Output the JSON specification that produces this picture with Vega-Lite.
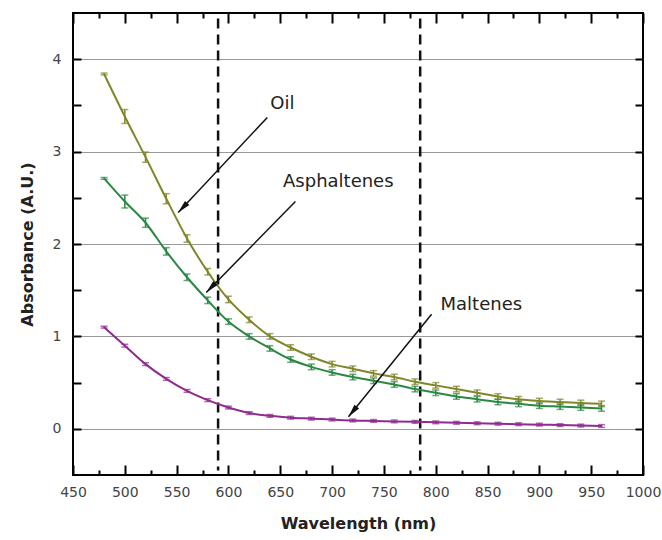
{
  "$schema": "https://vega.github.io/schema/vega-lite/v6.json",
  "width": 570,
  "height": 462,
  "autosize": {"type": "none"},
  "padding": {"left": 73, "top": 13, "right": 19, "bottom": 65},
  "background": "white",
  "config": {
    "view": {"stroke": "black", "strokeWidth": 2},
    "font": "DejaVu Sans",
    "axis": {
      "domain": false,
      "labelFont": "DejaVu Sans",
      "labelFontSize": 14,
      "labelColor": "#444",
      "labelFlush": false,
      "labelOverlap": false,
      "titleFont": "DejaVu Sans",
      "titleFontSize": 16,
      "titleFontWeight": "bold",
      "titleColor": "#222"
    }
  },
  "datasets": {
    "spec": [
      {"s": "Oil", "wl": 480, "a": 3.84, "e": 0.01},
      {"s": "Oil", "wl": 500, "a": 3.38, "e": 0.075},
      {"s": "Oil", "wl": 520, "a": 2.94, "e": 0.055},
      {"s": "Oil", "wl": 540, "a": 2.49, "e": 0.055},
      {"s": "Oil", "wl": 560, "a": 2.06, "e": 0.04},
      {"s": "Oil", "wl": 580, "a": 1.70, "e": 0.035},
      {"s": "Oil", "wl": 600, "a": 1.40, "e": 0.035},
      {"s": "Oil", "wl": 620, "a": 1.18, "e": 0.03},
      {"s": "Oil", "wl": 640, "a": 1.00, "e": 0.03},
      {"s": "Oil", "wl": 660, "a": 0.88, "e": 0.03},
      {"s": "Oil", "wl": 680, "a": 0.78, "e": 0.03},
      {"s": "Oil", "wl": 700, "a": 0.70, "e": 0.03},
      {"s": "Oil", "wl": 720, "a": 0.65, "e": 0.03},
      {"s": "Oil", "wl": 740, "a": 0.60, "e": 0.03},
      {"s": "Oil", "wl": 760, "a": 0.56, "e": 0.03},
      {"s": "Oil", "wl": 780, "a": 0.51, "e": 0.03},
      {"s": "Oil", "wl": 800, "a": 0.47, "e": 0.03},
      {"s": "Oil", "wl": 820, "a": 0.43, "e": 0.03},
      {"s": "Oil", "wl": 840, "a": 0.39, "e": 0.03},
      {"s": "Oil", "wl": 860, "a": 0.35, "e": 0.03},
      {"s": "Oil", "wl": 880, "a": 0.32, "e": 0.03},
      {"s": "Oil", "wl": 900, "a": 0.30, "e": 0.03},
      {"s": "Oil", "wl": 920, "a": 0.29, "e": 0.03},
      {"s": "Oil", "wl": 940, "a": 0.28, "e": 0.03},
      {"s": "Oil", "wl": 960, "a": 0.27, "e": 0.03},
      {"s": "Asphaltenes", "wl": 480, "a": 2.71, "e": 0.01},
      {"s": "Asphaltenes", "wl": 500, "a": 2.46, "e": 0.07},
      {"s": "Asphaltenes", "wl": 520, "a": 2.23, "e": 0.05},
      {"s": "Asphaltenes", "wl": 540, "a": 1.92, "e": 0.04},
      {"s": "Asphaltenes", "wl": 560, "a": 1.64, "e": 0.035},
      {"s": "Asphaltenes", "wl": 580, "a": 1.39, "e": 0.035},
      {"s": "Asphaltenes", "wl": 600, "a": 1.16, "e": 0.03},
      {"s": "Asphaltenes", "wl": 620, "a": 1.00, "e": 0.03},
      {"s": "Asphaltenes", "wl": 640, "a": 0.87, "e": 0.03},
      {"s": "Asphaltenes", "wl": 660, "a": 0.75, "e": 0.03},
      {"s": "Asphaltenes", "wl": 680, "a": 0.67, "e": 0.03},
      {"s": "Asphaltenes", "wl": 700, "a": 0.61, "e": 0.03},
      {"s": "Asphaltenes", "wl": 720, "a": 0.56, "e": 0.03},
      {"s": "Asphaltenes", "wl": 740, "a": 0.52, "e": 0.03},
      {"s": "Asphaltenes", "wl": 760, "a": 0.48, "e": 0.03},
      {"s": "Asphaltenes", "wl": 780, "a": 0.43, "e": 0.03},
      {"s": "Asphaltenes", "wl": 800, "a": 0.39, "e": 0.03},
      {"s": "Asphaltenes", "wl": 820, "a": 0.35, "e": 0.03},
      {"s": "Asphaltenes", "wl": 840, "a": 0.32, "e": 0.03},
      {"s": "Asphaltenes", "wl": 860, "a": 0.29, "e": 0.03},
      {"s": "Asphaltenes", "wl": 880, "a": 0.27, "e": 0.03},
      {"s": "Asphaltenes", "wl": 900, "a": 0.25, "e": 0.03},
      {"s": "Asphaltenes", "wl": 920, "a": 0.24, "e": 0.03},
      {"s": "Asphaltenes", "wl": 940, "a": 0.23, "e": 0.03},
      {"s": "Asphaltenes", "wl": 960, "a": 0.22, "e": 0.03},
      {"s": "Maltenes", "wl": 480, "a": 1.10, "e": 0.01},
      {"s": "Maltenes", "wl": 500, "a": 0.90, "e": 0.015},
      {"s": "Maltenes", "wl": 520, "a": 0.70, "e": 0.015},
      {"s": "Maltenes", "wl": 540, "a": 0.54, "e": 0.015},
      {"s": "Maltenes", "wl": 560, "a": 0.41, "e": 0.015},
      {"s": "Maltenes", "wl": 580, "a": 0.31, "e": 0.015},
      {"s": "Maltenes", "wl": 600, "a": 0.23, "e": 0.015},
      {"s": "Maltenes", "wl": 620, "a": 0.17, "e": 0.015},
      {"s": "Maltenes", "wl": 640, "a": 0.14, "e": 0.015},
      {"s": "Maltenes", "wl": 660, "a": 0.12, "e": 0.015},
      {"s": "Maltenes", "wl": 680, "a": 0.11, "e": 0.015},
      {"s": "Maltenes", "wl": 700, "a": 0.10, "e": 0.015},
      {"s": "Maltenes", "wl": 720, "a": 0.09, "e": 0.015},
      {"s": "Maltenes", "wl": 740, "a": 0.085, "e": 0.015},
      {"s": "Maltenes", "wl": 760, "a": 0.08, "e": 0.015},
      {"s": "Maltenes", "wl": 780, "a": 0.075, "e": 0.015},
      {"s": "Maltenes", "wl": 800, "a": 0.07, "e": 0.015},
      {"s": "Maltenes", "wl": 820, "a": 0.065, "e": 0.015},
      {"s": "Maltenes", "wl": 840, "a": 0.06, "e": 0.015},
      {"s": "Maltenes", "wl": 860, "a": 0.055, "e": 0.015},
      {"s": "Maltenes", "wl": 880, "a": 0.05, "e": 0.015},
      {"s": "Maltenes", "wl": 900, "a": 0.045, "e": 0.015},
      {"s": "Maltenes", "wl": 920, "a": 0.04, "e": 0.015},
      {"s": "Maltenes", "wl": 940, "a": 0.035, "e": 0.015},
      {"s": "Maltenes", "wl": 960, "a": 0.03, "e": 0.015}
    ],
    "vlines": [{"wl": 590, "y1": 4.44, "y2": -0.45}, {"wl": 785, "y1": 4.44, "y2": -0.45}],
    "arrows": [
      {"id": "Oil", "wl": 637.5, "a": 3.37},
      {"id": "Oil", "wl": 551.5, "a": 2.34},
      {"id": "Asphaltenes", "wl": 664.6, "a": 2.46},
      {"id": "Asphaltenes", "wl": 578.6, "a": 1.475},
      {"id": "Maltenes", "wl": 796, "a": 1.24},
      {"id": "Maltenes", "wl": 715.8, "a": 0.13}
    ],
    "heads": [
      {"wl": 551.5, "a": 2.34, "ang": 223},
      {"wl": 578.6, "a": 1.475, "ang": 224},
      {"wl": 715.8, "a": 0.13, "ang": 219}
    ],
    "labels": [
      {"t": "Oil", "wl": 652, "a": 3.52},
      {"t": "Asphaltenes", "wl": 706, "a": 2.67},
      {"t": "Maltenes", "wl": 844, "a": 1.345}
    ]
  },
  "layer": [
    {
      "data": {"name": "vlines"},
      "mark": {"type": "rule", "color": "#111", "strokeWidth": 2.5, "strokeDash": [10, 6]},
      "encoding": {
        "x": {"field": "wl", "type": "quantitative", "scale": {"domain": [450, 1000], "nice": false, "zero": false},
          "axis": {"orient": "top", "values": [450, 500, 550, 600, 650, 700, 750, 800, 850, 900, 950, 1000], "tickSize": -10, "tickColor": "black", "tickWidth": 2, "labels": false, "title": null, "grid": false}},
        "y": {"field": "y1", "type": "quantitative", "scale": {"domain": [-0.5, 4.5], "nice": false, "zero": false},
          "axis": {"orient": "left", "values": [0, 1, 2, 3, 4], "grid": true, "gridColor": "#999", "gridWidth": 1, "ticks": false, "labels": false, "title": null}},
        "y2": {"field": "y2"}
      }
    },
    {
      "data": {"name": "spec"},
      "mark": {"type": "line", "interpolate": "monotone", "strokeWidth": 2},
      "encoding": {
        "x": {"field": "wl", "type": "quantitative", "scale": {"domain": [450, 1000], "nice": false, "zero": false},
          "axis": {"orient": "bottom", "title": "Wavelength (nm)", "format": "d", "values": [450, 500, 550, 600, 650, 700, 750, 800, 850, 900, 950, 1000], "offset": -10, "tickSize": 10, "tickColor": "black", "tickWidth": 2, "labelPadding": 10, "titlePadding": 16, "grid": false}},
        "y": {"field": "a", "type": "quantitative", "scale": {"domain": [-0.5, 4.5], "nice": false, "zero": false},
          "axis": {"orient": "left", "title": "Absorbance (A.U.)", "values": [0, 1, 2, 3, 4], "offset": -8, "tickSize": 8, "tickColor": "black", "tickWidth": 2, "labelPadding": 12, "titlePadding": 17, "grid": false}},
        "color": {"field": "s", "type": "nominal", "scale": {"domain": ["Oil", "Asphaltenes", "Maltenes"], "range": ["#80862a", "#2a8842", "#8e2c8e"]}, "legend": null}
      }
    },
    {
      "data": {"name": "spec"},
      "mark": {"type": "errorbar", "ticks": {"size": 7, "thickness": 1.5}, "rule": {"strokeWidth": 1.5}},
      "encoding": {
        "x": {"field": "wl", "type": "quantitative", "scale": {"domain": [450, 1000], "nice": false, "zero": false},
          "axis": {"orient": "bottom", "values": [475, 525, 575, 625, 675, 725, 775, 825, 875, 925, 975], "offset": -5, "tickSize": 5, "tickColor": "black", "tickWidth": 2, "labels": false, "title": null, "grid": false}},
        "y": {"field": "a", "type": "quantitative", "scale": {"domain": [-0.5, 4.5], "nice": false, "zero": false},
          "axis": {"orient": "left", "values": [0.5, 1.5, 2.5, 3.5], "offset": -8, "tickSize": 8, "tickColor": "black", "tickWidth": 2, "labels": false, "title": null, "grid": false}},
        "yError": {"field": "e"},
        "color": {"field": "s", "type": "nominal", "scale": {"domain": ["Oil", "Asphaltenes", "Maltenes"], "range": ["#80862a", "#2a8842", "#8e2c8e"]}, "legend": null}
      }
    },
    {
      "data": {"name": "arrows"},
      "mark": {"type": "line", "color": "#111", "strokeWidth": 1.5},
      "encoding": {
        "x": {"field": "wl", "type": "quantitative", "scale": {"domain": [450, 1000], "nice": false, "zero": false},
          "axis": {"orient": "top", "values": [475, 525, 575, 625, 675, 725, 775, 825, 875, 925, 975], "tickSize": -5, "tickColor": "black", "tickWidth": 2, "labels": false, "title": null, "grid": false}},
        "y": {"field": "a", "type": "quantitative", "scale": {"domain": [-0.5, 4.5], "nice": false, "zero": false},
          "axis": {"orient": "right", "values": [0, 1, 2, 3, 4], "tickSize": -8, "tickColor": "black", "tickWidth": 2, "labels": false, "title": null, "grid": false}},
        "detail": {"field": "id"},
        "order": {"field": "a", "sort": "descending"}
      }
    },
    {
      "data": {"name": "heads"},
      "mark": {"type": "point", "shape": "M0,0 L0.5,2.2 L-0.5,2.2 Z", "filled": true, "color": "#111", "opacity": 1, "size": 144},
      "encoding": {
        "x": {"field": "wl", "type": "quantitative", "scale": {"domain": [450, 1000], "nice": false, "zero": false}, "axis": null},
        "y": {"field": "a", "type": "quantitative", "scale": {"domain": [-0.5, 4.5], "nice": false, "zero": false},
          "axis": {"orient": "right", "values": [0.5, 1.5, 2.5, 3.5], "tickSize": -8, "tickColor": "black", "tickWidth": 2, "labels": false, "title": null, "grid": false}},
        "angle": {"field": "ang", "type": "quantitative", "scale": null}
      }
    },
    {
      "data": {"name": "labels"},
      "mark": {"type": "text", "font": "DejaVu Sans", "fontSize": 18, "color": "#222", "align": "center", "baseline": "middle"},
      "encoding": {
        "x": {"field": "wl", "type": "quantitative", "scale": {"domain": [450, 1000], "nice": false, "zero": false}, "axis": null},
        "y": {"field": "a", "type": "quantitative", "scale": {"domain": [-0.5, 4.5], "nice": false, "zero": false}, "axis": null},
        "text": {"field": "t"}
      }
    }
  ],
  "resolve": {"axis": {"x": "independent", "y": "independent"}}
}
